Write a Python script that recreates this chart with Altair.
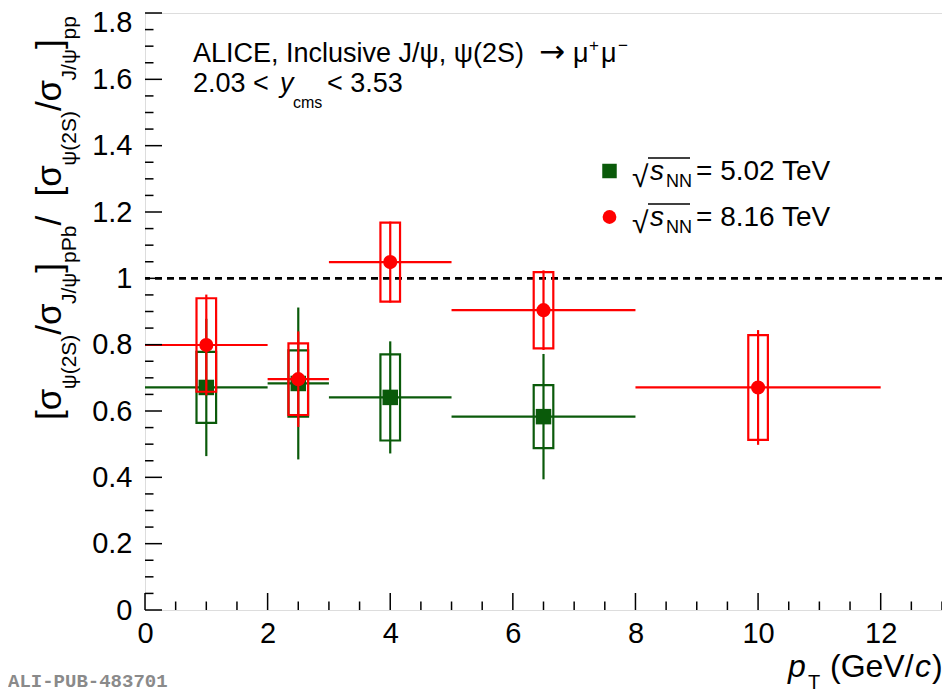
import altair as alt
import pandas as pd

# ---------------- data ----------------
# sqrt(sNN) = 5.02 TeV  (green squares)
PT_G = [1.0, 2.5, 4.0, 6.5]
PT_LO_G = [0, 2, 3, 5]
PT_HI_G = [2, 3, 5, 8]
RATIO_G = [0.671, 0.683, 0.641, 0.583]
STAT_G = [0.207, 0.229, 0.169, 0.189]
SYST_G = [0.107, 0.100, 0.130, 0.095]

# sqrt(sNN) = 8.16 TeV  (red circles)
PT_R = [1.0, 2.5, 4.0, 6.5, 10.0]
PT_LO_R = [0, 2, 3, 5, 8]
PT_HI_R = [2, 3, 5, 8, 12]
RATIO_R = [0.799, 0.696, 1.049, 0.904, 0.671]
STAT_R = [0.152, 0.144, 0.122, 0.120, 0.173]
SYST_R = [0.141, 0.108, 0.119, 0.115, 0.158]

X_LABELS = [0, 2, 4, 6, 8, 10, 12]
Y_LABELS = [0, 0.2, 0.4, 0.6, 0.8, 1, 1.2, 1.4, 1.6, 1.8]
REFERENCE = 1

# ---------------- style ----------------
W, H = 797, 597
OX, OY = 145, 13          # page position of plot origin
FONT = "Liberation Sans"
GREEN = "#0a5a0a"
RED = "#ff0000"
LW = 2.2
BOX_HW = 0.16

XS = alt.Scale(domain=[0, 13], nice=False, zero=False)
YS = alt.Scale(domain=[0, 1.8], nice=False, zero=False)
XA = alt.Axis(values=X_LABELS, title=None, ticks=False, domain=False, grid=False,
              labelFont=FONT, labelFontSize=29, labelPadding=9, labelColor="black",
              format="~g", labelFlush=False)
YA = alt.Axis(values=Y_LABELS, title=None, ticks=False, domain=False, grid=False,
              labelFont=FONT, labelFontSize=29, labelPadding=13, labelColor="black",
              format="~g", labelFlush=False,
              labelOffset={"condition": {"test": "datum.value >= 1.79", "value": 9},
                           "value": 0})


def X(f):
    return alt.X(f"{f}:Q", scale=XS, axis=XA)


def Y(f):
    return alt.Y(f"{f}:Q", scale=YS, axis=YA)


def series(pt, lo, hi, r, stat, syst, color, shape, size):
    df = pd.DataFrame({"x": pt, "xlo": lo, "xhi": hi, "y": r, "stat": stat, "syst": syst})
    base = alt.Chart(df).transform_calculate(
        slo="datum.y - datum.stat", shi="datum.y + datum.stat",
        blo="datum.y - datum.syst", bhi="datum.y + datum.syst",
        bx0=f"datum.x - {BOX_HW}", bx1=f"datum.x + {BOX_HW}")
    box = base.mark_rect(fillOpacity=0, stroke=color, strokeWidth=LW).encode(
        x=X("bx0"), x2="bx1", y=Y("blo"), y2="bhi")
    hbar = base.mark_rule(color=color, strokeWidth=LW).encode(x=X("xlo"), x2="xhi", y=Y("y"))
    vbar = base.mark_rule(color=color, strokeWidth=LW).encode(x=X("x"), y=Y("slo"), y2="shi")
    pts = base.mark_point(shape=shape, filled=True, size=size, color=color, opacity=1,
                          strokeWidth=0).encode(x=X("x"), y=Y("y"))
    return [box, hbar, vbar, pts]


def txt(s, px, py, size, angle=0, italic=False, align="left", color="black", font=FONT,
        weight="normal"):
    return alt.Chart(alt.Data(values=[{}])).mark_text(
        text=s, font=font, fontSize=size, angle=angle, align=align, baseline="alphabetic",
        fontStyle="italic" if italic else "normal", color=color, fontWeight=weight
    ).encode(x=alt.value(px - OX), y=alt.value(py - OY))


def hline(x0, x1, py, color="black", w=1.5):
    return alt.Chart(alt.Data(values=[{}])).mark_rule(color=color, strokeWidth=w).encode(
        x=alt.value(x0 - OX), x2=alt.value(x1 - OX), y=alt.value(py - OY))


# ---------------- inner ticks ----------------
y_major = pd.DataFrame({"t": Y_LABELS})
y_minor = pd.DataFrame({"t": [round(i * 0.05, 2) for i in range(37) if i % 4]})
x_major = pd.DataFrame({"t": X_LABELS})
x_minor = pd.DataFrame({"t": [i * 0.5 for i in range(27) if i % 4]})

ticks = [
    alt.Chart(y_major).mark_rule(color="black", strokeWidth=1.5).encode(
        y=Y("t"), x=alt.value(0), x2=alt.value(17)),
    alt.Chart(y_minor).mark_rule(color="black", strokeWidth=1.5).encode(
        y=Y("t"), x=alt.value(0), x2=alt.value(8.5)),
    alt.Chart(x_major).mark_rule(color="black", strokeWidth=1.5).encode(
        x=X("t"), y=alt.value(H), y2=alt.value(H - 17)),
    alt.Chart(x_minor).mark_rule(color="black", strokeWidth=1.5).encode(
        x=X("t"), y=alt.value(H), y2=alt.value(H - 8.5)),
]

ref = alt.Chart(pd.DataFrame({"r": [REFERENCE]})).mark_rule(
    color="black", strokeWidth=2.6, strokeDash=[7, 5]).encode(y=Y("r"))

layers = [ref]
layers += series(PT_G, PT_LO_G, PT_HI_G, RATIO_G, STAT_G, SYST_G, GREEN, "square", 240)
layers += series(PT_R, PT_LO_R, PT_HI_R, RATIO_R, STAT_R, SYST_R, RED, "circle", 200)
layers += ticks

# ---------------- legend ----------------
layers.append(alt.Chart(alt.Data(values=[{}])).mark_point(
    shape="square", filled=True, size=210, color=GREEN, opacity=1, strokeWidth=0).encode(
    x=alt.value(609.5 - OX), y=alt.value(171 - OY)))
layers.append(alt.Chart(alt.Data(values=[{}])).mark_point(
    shape="circle", filled=True, size=190, color=RED, opacity=1, strokeWidth=0).encode(
    x=alt.value(609.5 - OX), y=alt.value(217 - OY)))
for dy, lab in [(0, "= 5.02 TeV"), (46, "= 8.16 TeV")]:
    layers.append(txt("\u221a", 632, 187 + dy, 30))
    layers.append(hline(648, 690, 158 + dy, w=1.6))
    layers.append(txt("s", 650, 180 + dy, 28, italic=True))
    layers.append(txt("NN", 666, 187 + dy, 18))
    layers.append(txt(lab, 696, 180 + dy, 28))

# ---------------- top-left labels ----------------
layers.append(txt("ALICE, Inclusive J/\u03c8, \u03c8(2S)", 193, 62, 27))
layers.append(txt("\u2192", 539, 62, 31, font="DejaVu Sans"))
layers.append(txt("\u03bc", 573, 62, 27))
layers.append(txt("+", 589, 51, 17))
layers.append(txt("\u03bc", 601, 62, 27))
layers.append(txt("\u2212", 618, 51, 17))

layers.append(txt("2.03 < ", 193, 92, 27))
layers.append(txt("y", 280, 92, 27, italic=True))
layers.append(txt("cms", 293, 108, 16))
layers.append(txt("< 3.53", 327, 92, 27))

# ---------------- x title ----------------
layers.append(txt("p", 788, 677, 32, italic=True))
layers.append(txt("T", 808, 689, 20))
layers.append(txt("(GeV/", 830, 677, 32))
layers.append(txt("c", 915, 677, 32, italic=True))
layers.append(txt(")", 932, 677, 32))

# ---------------- y title (rotated) ----------------
MAIN_X, SUB_X = 61, 76
ytitle = [
    ("[", 420, 35, MAIN_X), ("\u03c3", 410.3, 35, MAIN_X), ("\u03c8(2S)", 389.3, 21, SUB_X),
    ("/", 334.7, 35, MAIN_X), ("\u03c3", 325, 35, MAIN_X), ("J/\u03c8", 304, 21, SUB_X),
    ("]", 272.7, 35, MAIN_X), ("pPb", 263, 21, SUB_X), (" / ", 225.6, 35, MAIN_X),
    ("[", 196.4, 35, MAIN_X), ("\u03c3", 186.7, 35, MAIN_X), ("\u03c8(2S)", 165.7, 21, SUB_X),
    ("/", 111.1, 35, MAIN_X), ("\u03c3", 101.4, 35, MAIN_X), ("J/\u03c8", 80.4, 21, SUB_X),
    ("]", 49.1, 35, MAIN_X), ("pp", 39.4, 21, SUB_X),
]
for s, py, sz, px in ytitle:
    layers.append(txt(s, px, py, sz, angle=270))

# ---------------- publication tag ----------------
layers.append(txt("ALI-PUB-483701", 8, 687, 19, color="#8a8a8a",
                  font="Liberation Mono", weight="bold"))

chart = alt.layer(*layers).properties(
    width=W, height=H,
    autosize=alt.AutoSizeParams(type="none"),
    padding={"left": 137, "top": 5, "right": 0, "bottom": 81},
).configure_view(stroke="black", strokeWidth=2).configure(background="white")

chart.save("out.html", embed_options={"renderer": "svg", "actions": False})
